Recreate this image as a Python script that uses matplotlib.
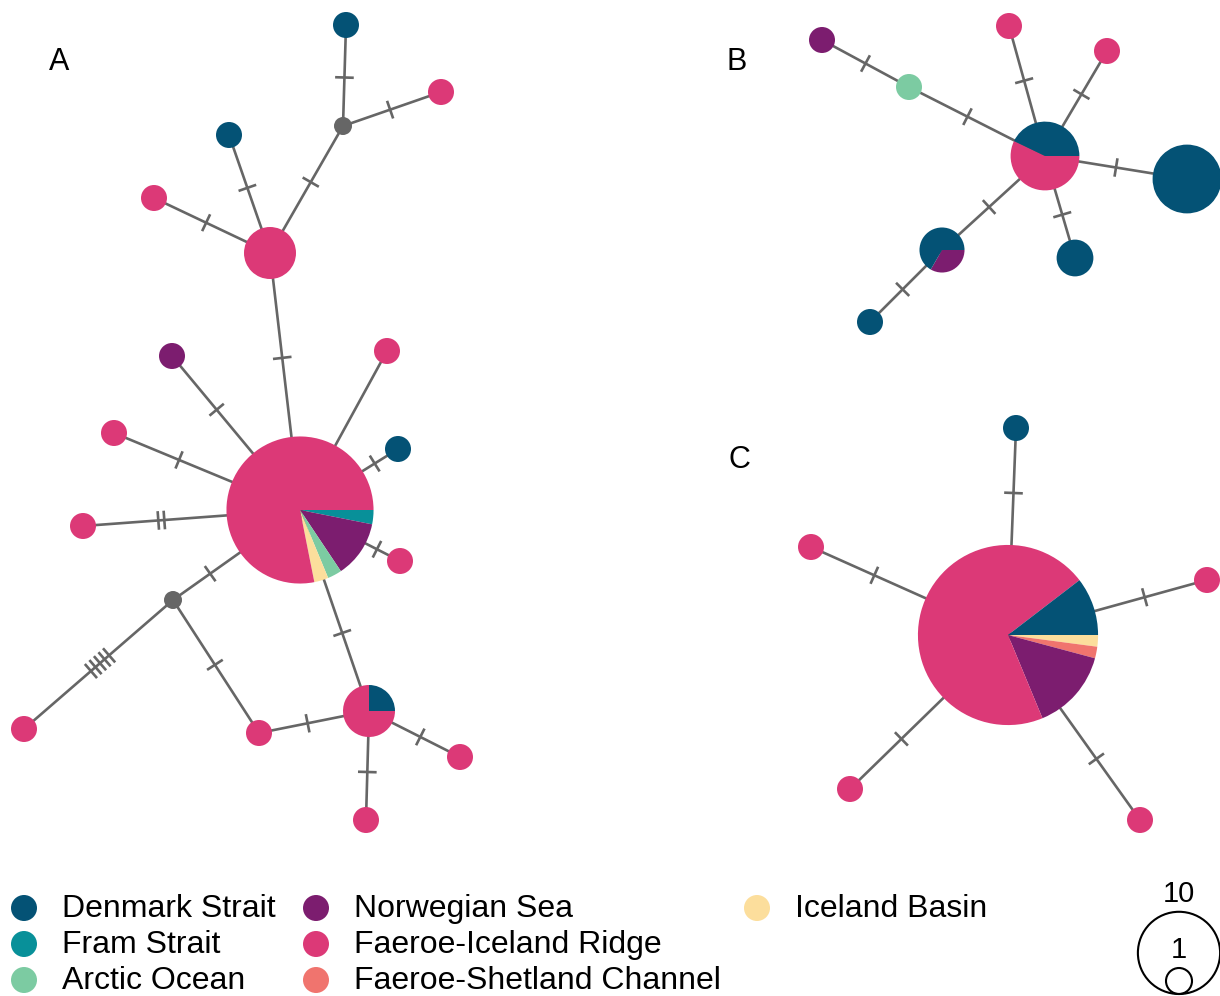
import numpy as np
import matplotlib.pyplot as plt
from matplotlib.patches import Wedge, Circle

plt.rcParams['font.family'] = ['Liberation Sans', 'DejaVu Sans']

# regions and colours
regions = ['Denmark Strait', 'Fram Strait', 'Arctic Ocean', 'Norwegian Sea',
           'Faeroe-Iceland Ridge', 'Faeroe-Shetland Channel', 'Iceland Basin']
region_colors = ['#045275', '#089099', '#7CCBA2', '#7C1D6F',
                 '#DC3977', '#F0746E', '#FCDE9C']

# haplotype nodes (layout position in px, composition clockwise from east)
# empty composition = median vector
node_x = [346, 441, 343, 229, 154, 270, 172, 387, 114, 398, 300, 83, 400, 173,
          24, 259, 369, 460, 366,
          822, 909, 1009, 1107, 1045, 1187, 942, 1075, 870,
          1008, 1016, 811, 1207, 850, 1140]
node_y = [25, 92, 126, 135, 198, 253, 356, 351, 433, 449, 510, 526, 561, 600,
          729, 733, 711, 757, 820,
          40, 87, 26, 51, 156, 179, 250, 258, 322,
          635, 428, 547, 580, 789, 820]
node_comp = [
    [(0, 1)], [(4, 1)], [], [(0, 1)], [(4, 1)], [(4, 4)], [(3, 1)], [(4, 1)],
    [(4, 1)], [(0, 1)], [(1, 1), (3, 4), (2, 1), (6, 1), (4, 25)], [(4, 1)],
    [(4, 1)], [], [(4, 1)], [(4, 1)], [(4, 3), (0, 1)], [(4, 1)], [(4, 1)],
    [(3, 1)], [(2, 1)], [(4, 1)], [(4, 1)], [(4, 4), (0, 3)], [(0, 7)],
    [(3, 1), (0, 2)], [(0, 2)], [(0, 1)],
    [(6, 1), (5, 1), (3, 7), (4, 34), (0, 5)], [(0, 1)], [(4, 1)], [(4, 1)],
    [(4, 1)], [(4, 1)],
]

# edges: (node, node, number of mutations)
edges = [(0, 2, 1), (1, 2, 1), (2, 5, 1), (3, 5, 1), (4, 5, 1), (5, 10, 1),
         (6, 10, 1), (7, 10, 0), (8, 10, 1), (9, 10, 1), (11, 10, 2),
         (12, 10, 1), (13, 10, 1), (13, 14, 5), (13, 15, 1), (15, 16, 1),
         (16, 10, 1), (16, 17, 1), (16, 18, 1),
         (19, 20, 1), (20, 23, 1), (21, 23, 1), (22, 23, 1), (23, 24, 1),
         (23, 25, 1), (23, 26, 1), (25, 27, 1),
         (28, 29, 1), (28, 30, 1), (28, 31, 1), (28, 32, 1), (28, 33, 1)]

panel_labels = ['A', 'B', 'C']
panel_label_xy = [(59, 62), (737, 62), (739, 460)]

scale_counts = [10, 1]

unit_r = 13
mv_r = 9
line_col = '#666666'


def node_radius(comp):
    n = sum(c for _, c in comp)
    return mv_r if n == 0 else unit_r * np.sqrt(n)


fig = plt.figure(figsize=(12.2, 9.96), dpi=100)
ax = fig.add_axes([0, 0, 1, 1])
ax.set_xlim(0, 1220)
ax.set_ylim(996, 0)
ax.axis('off')

radii = [node_radius(c) for c in node_comp]

# edges and mutation ticks
for i, j, k in edges:
    p0 = np.array([node_x[i], node_y[i]], float)
    p1 = np.array([node_x[j], node_y[j]], float)
    ax.plot([p0[0], p1[0]], [p0[1], p1[1]], color=line_col, lw=1.9, zorder=1)
    L = np.hypot(*(p1 - p0))
    u = (p1 - p0) / L
    perp = np.array([-u[1], u[0]])
    mid = p0 + u * (radii[i] + (L - radii[j] - radii[i]) / 2)
    for m in range(k):
        c = mid + u * (m - (k - 1) / 2) * 6
        a, b = c - perp * 8, c + perp * 8
        ax.plot([a[0], b[0]], [a[1], b[1]], color=line_col, lw=1.9, zorder=1)

# nodes (wedge angles grow clockwise because y axis is inverted)
for x, y, comp, r in zip(node_x, node_y, node_comp, radii):
    if not comp:
        ax.add_patch(Circle((x, y), r, color=line_col, lw=0, zorder=2))
        continue
    total = sum(c for _, c in comp)
    start = 0
    for reg, c in comp:
        end = start + 360 * c / total
        ax.add_patch(Wedge((x, y), r, start, end, color=region_colors[reg],
                           lw=0, zorder=2))
        start = end

for lab, (x, y) in zip(panel_labels, panel_label_xy):
    ax.text(x, y, lab, fontsize=22, ha='center', va='center')

# legend
col_x = [24, 316, 757]
row_y = [908, 944, 980]
for idx, (reg, col) in enumerate(zip(regions, region_colors)):
    cx = col_x[idx // 3]
    cy = row_y[idx % 3]
    ax.add_patch(Circle((cx, cy), 13, color=col, lw=0))
    ax.text(cx + 38, cy + 1, reg, fontsize=23, ha='left', va='center')

# size scale
bottom = 994
for n in scale_counts:
    r = unit_r * np.sqrt(n)
    ax.add_patch(Circle((1179, bottom - r), r, fill=False, ec='black', lw=1.5))
    ax.text(1179, bottom - 2 * r - 4, str(n), fontsize=21, ha='center',
            va='bottom')

fig.savefig('out.png', dpi=100)
